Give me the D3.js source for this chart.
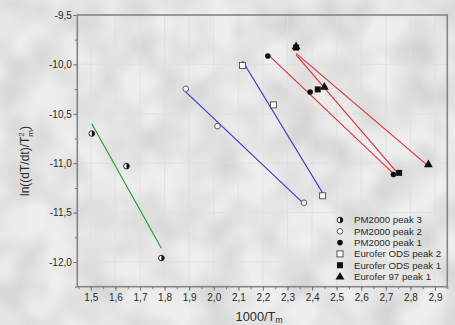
<!DOCTYPE html>
<html>
<head>
<meta charset="utf-8">
<script src="https://cdn.jsdelivr.net/npm/d3@7/dist/d3.min.js"></script>
<style>
  html, body { margin: 0; padding: 0; background: #e6e6e6; }
  svg { display: block; }
  text { font-family: "Liberation Sans", Arial, sans-serif; fill: #2a2a2a; }
</style>
</head>
<body>
<svg id="chart" width="455" height="325"></svg>
<script>
// ---- data ----
const xTicks = [1.5, 1.6, 1.7, 1.8, 1.9, 2.0, 2.1, 2.2, 2.3, 2.4, 2.5, 2.6, 2.7, 2.8, 2.9];
const yTicks = [-9.5, -10.0, -10.5, -11.0, -11.5, -12.0];
const seriesNames = ["PM2000 peak 3", "PM2000 peak 2", "PM2000 peak 1",
                     "Eurofer ODS peak 2", "Eurofer ODS peak 1", "Eurofer 97 peak 1"];
const pm2000p3X = [1.504, 1.645, 1.787];
const pm2000p3Y = [-10.70, -11.03, -11.96];
const pm2000p2X = [1.886, 2.015, 2.367];
const pm2000p2Y = [-10.247, -10.625, -11.40];
const pm2000p1X = [2.220, 2.392, 2.731];
const pm2000p1Y = [-9.915, -10.28, -11.114];
const odsP2X = [2.117, 2.243, 2.443];
const odsP2Y = [-10.01, -10.41, -11.33];
const odsP1X = [2.335, 2.423, 2.754];
const odsP1Y = [-9.83, -10.253, -11.098];
const e97P1X = [2.335, 2.450, 2.873];
const e97P1Y = [-9.815, -10.226, -11.01];

const series = [
  { name: seriesNames[0], xs: pm2000p3X, ys: pm2000p3Y, sym: "half",   color: "#2f9a37" },
  { name: seriesNames[1], xs: pm2000p2X, ys: pm2000p2Y, sym: "ocircle", color: "#3a3ad0" },
  { name: seriesNames[2], xs: pm2000p1X, ys: pm2000p1Y, sym: "fcircle", color: "#e03535" },
  { name: seriesNames[3], xs: odsP2X,    ys: odsP2Y,    sym: "osquare", color: "#3a3ad0" },
  { name: seriesNames[4], xs: odsP1X,    ys: odsP1Y,    sym: "fsquare", color: "#e03535" },
  { name: seriesNames[5], xs: e97P1X,    ys: e97P1Y,    sym: "ftri",    color: "#e03535" }
];

// ---- layout ----
const W = 455, H = 325;
const L = 77.3, R = 447.3, T = 15, B = 286.7;
const svg = d3.select("#chart");

// background texture
const defs = svg.append("defs");
const f = defs.append("filter").attr("id", "noise").attr("x", 0).attr("y", 0).attr("width", "100%").attr("height", "100%");
f.append("feTurbulence").attr("type", "fractalNoise").attr("baseFrequency", 0.025).attr("numOctaves", 2).attr("seed", 7);
f.append("feColorMatrix").attr("type", "matrix")
  .attr("values", "0 0 0 0 0  0 0 0 0 0  0 0 0 0 0  0.22 0 0 0 -0.07");
svg.append("rect").attr("width", W).attr("height", H).attr("fill", "#eeeeee");
svg.append("rect").attr("width", W).attr("height", H).attr("filter", "url(#noise)");

const x = d3.scaleLinear().domain([1.445, 2.95]).range([L, R]);
const y = d3.scaleLinear().domain([-12.25, -9.5]).range([B, T]);

const fmt = v => {
  const s = Math.abs(v).toFixed(1).replace(".", ",");
  return (v < 0 ? "-" : "") + s;
};

// grid
const grid = svg.append("g").attr("stroke", "#dedede").attr("stroke-width", 0.8);
grid.selectAll("line.gx").data(xTicks).join("line")
  .attr("x1", d => x(d)).attr("x2", d => x(d)).attr("y1", T).attr("y2", B);
grid.selectAll("line.gy").data(yTicks).join("line")
  .attr("x1", L).attr("x2", R).attr("y1", d => y(d)).attr("y2", d => y(d));

// axes
const xMinor = d3.range(0, 31).map(i => 1.45 + i * 0.05).filter(v => v < 2.951);
const yMinor = d3.range(0, 12).map(i => -9.5 - i * 0.25);

const axX = svg.append("g").attr("transform", `translate(0,${B})`)
  .call(d3.axisBottom(x).tickValues(xTicks).tickFormat(fmt).tickSize(4).tickPadding(3));
const axXm = svg.append("g").attr("transform", `translate(0,${B})`)
  .call(d3.axisBottom(x).tickValues(xMinor).tickFormat("").tickSize(2.5));
const axY = svg.append("g").attr("transform", `translate(${L},0)`)
  .call(d3.axisLeft(y).tickValues(yTicks).tickFormat(fmt).tickSize(4).tickPadding(1.5));
const axYm = svg.append("g").attr("transform", `translate(${L},0)`)
  .call(d3.axisLeft(y).tickValues(yMinor).tickFormat("").tickSize(2.5));
[axX, axXm, axY, axYm].forEach(g => {
  g.select(".domain").remove();
  g.selectAll(".tick line").attr("stroke", "#7a7a7a").attr("stroke-width", 1);
  g.selectAll(".tick text").attr("font-size", 10).attr("fill", "#2a2a2a")
    .attr("font-family", "Liberation Sans, Arial, sans-serif");
});

// frame
svg.append("rect").attr("x", L).attr("y", T).attr("width", R - L).attr("height", B - T)
  .attr("fill", "none").attr("stroke", "#858585").attr("stroke-width", 1.6);

// fit lines (least squares through each series)
function fit(xs, ys) {
  const mx = d3.mean(xs), my = d3.mean(ys);
  let sxy = 0, sxx = 0;
  xs.forEach((xv, i) => { sxy += (xv - mx) * (ys[i] - my); sxx += (xv - mx) * (xv - mx); });
  const b = sxy / sxx, a = my - b * mx;
  const x0 = d3.min(xs), x1 = d3.max(xs);
  return [[x0, a + b * x0], [x1, a + b * x1]];
}
const lineGen = d3.line().x(d => x(d[0])).y(d => y(d[1]));
svg.append("g").selectAll("path").data(series).join("path")
  .attr("d", s => lineGen(fit(s.xs, s.ys)))
  .attr("fill", "none").attr("stroke", s => s.color).attr("stroke-width", 1.2);

// markers
function drawSym(g, sym, cx, cy) {
  const r = 2.8;
  if (sym === "half") {
    g.append("circle").attr("cx", cx).attr("cy", cy).attr("r", r).attr("fill", "#fff").attr("stroke", "#111").attr("stroke-width", 0.9);
    g.append("path").attr("d", `M${cx},${cy - r} A${r},${r} 0 0 1 ${cx},${cy + r} Z`).attr("fill", "#111");
  } else if (sym === "ocircle") {
    g.append("circle").attr("cx", cx).attr("cy", cy).attr("r", r).attr("fill", "#fff").attr("stroke", "#333").attr("stroke-width", 0.8);
  } else if (sym === "fcircle") {
    g.append("circle").attr("cx", cx).attr("cy", cy).attr("r", r).attr("fill", "#111");
  } else if (sym === "osquare") {
    g.append("rect").attr("x", cx - 3).attr("y", cy - 3).attr("width", 6).attr("height", 6).attr("fill", "#fff").attr("stroke", "#333").attr("stroke-width", 0.8);
  } else if (sym === "fsquare") {
    g.append("rect").attr("x", cx - 3).attr("y", cy - 3).attr("width", 6).attr("height", 6).attr("fill", "#111");
  } else if (sym === "ftri") {
    g.append("path").attr("d", d3.symbol(d3.symbolTriangle, 34)()).attr("transform", `translate(${cx},${cy + 0.5})`).attr("fill", "#111");
  }
}
const mk = svg.append("g");
series.forEach(s => s.xs.forEach((xv, i) => drawSym(mk, s.sym, x(xv), y(s.ys[i]))));

// legend
const lg = svg.append("g");
series.forEach((s, i) => {
  const cy = 220 + i * 11.3;
  drawSym(lg, s.sym, 340, cy);
  lg.append("text").attr("x", 354).attr("y", cy).attr("dy", "0.35em")
    .attr("font-size", 9.7).text(s.name);
});

// axis titles
const xt = svg.append("text").attr("x", 259).attr("y", 320.5).attr("text-anchor", "middle").attr("font-size", 12.8);
xt.append("tspan").text("1000/T");
xt.append("tspan").attr("font-size", 8.5).attr("dy", 2.5).text("m");

const yt = svg.append("text").attr("transform", "translate(29,161) rotate(-90)")
  .attr("text-anchor", "middle").attr("font-size", 12);
yt.append("tspan").text("ln((dT/dt)/T");
yt.append("tspan").attr("font-size", 8).attr("dy", -5).text("2");
yt.append("tspan").attr("font-size", 8).attr("dx", -4.4).attr("dy", 9).text("m");
yt.append("tspan").attr("dy", -4).text(")");
</script>
</body>
</html>
